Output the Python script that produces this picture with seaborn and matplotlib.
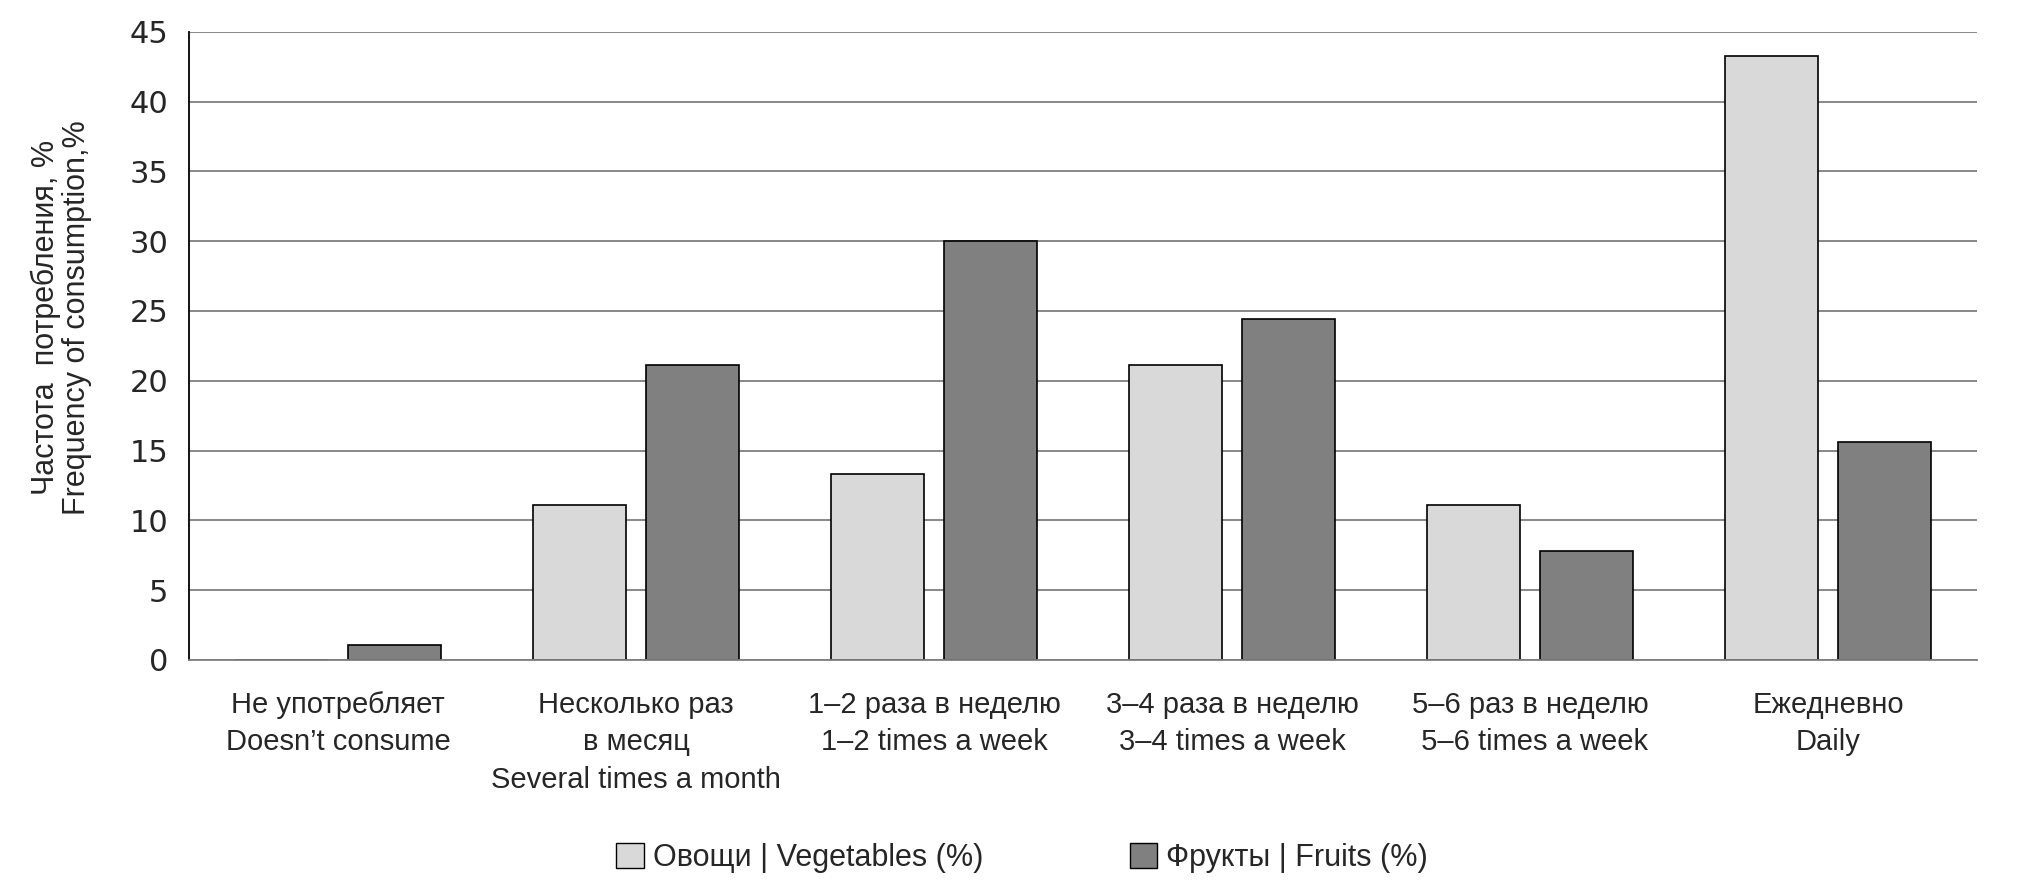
import numpy as np
import pandas as pd
import matplotlib.pyplot as plt
import seaborn as sns
from matplotlib.patches import Patch

sns.set_style('white')
plt.rcParams['font.family'] = ['Liberation Sans', 'DejaVu Sans']

# данные (n = 90, %)
categories = ['Не употребляет\nDoesn’t consume',
              'Несколько раз\nв месяц\nSeveral times a month',
              '1–2 раза в неделю\n1–2 times a week',
              '3–4 раза в неделю\n3–4 times a week',
              '5–6 раз в неделю\n 5–6 times a week',
              'Ежедневно\nDaily']
vegetables = [0.0, 11.1, 13.3, 21.1, 11.1, 43.3]
fruits = [1.1, 21.1, 30.0, 24.4, 7.8, 15.6]
series = ['Овощи | Vegetables (%)', 'Фрукты | Fruits (%)']
colors = ['#d9d9d9', '#808080']

df = pd.DataFrame({'cat': categories * 2,
                   'val': vegetables + fruits,
                   'series': [series[0]] * 6 + [series[1]] * 6})

fig = plt.figure(figsize=(20.24, 8.91), dpi=100)
ax = fig.add_axes([0.0934, 0.2593, 0.8834, 0.705])

sns.barplot(data=df, x='cat', y='val', hue='series', palette=colors,
            width=0.76, gap=0.18, edgecolor='black', linewidth=1.2,
            legend=False, ax=ax)

ax.set_xlim(-0.5, 5.5)
ax.set_ylim(0, 45)
ax.set_yticks(np.arange(0, 46, 5))
ax.yaxis.grid(True, color='#7f7f7f', linewidth=1.3)
ax.set_axisbelow(True)
for s in ['top', 'right']:
    ax.spines[s].set_visible(False)
ax.spines['left'].set_color('black')
ax.spines['left'].set_linewidth(1.3)
ax.spines['bottom'].set_color('#7f7f7f')
ax.spines['bottom'].set_linewidth(1.3)

ax.tick_params(axis='y', labelsize=22, length=7, color='#7f7f7f', width=1.3,
               pad=8)
ax.tick_params(axis='x', labelsize=21, length=0, pad=22)
for lab in ax.get_yticklabels():
    lab.set_family(['DejaVu Sans'])
for lab in ax.get_xticklabels():
    lab.set_linespacing(1.45)
ax.set_xlabel('')
ax.set_ylabel('Частота  потребления, %\nFrequency of consumption,%',
              fontsize=22, family=['Liberation Sans Narrow', 'Liberation Sans'],
              linespacing=1.05)
ax.yaxis.set_label_coords(-0.054, 0.545)

handles = [Patch(facecolor=c, edgecolor='black', linewidth=1.0) for c in colors]
fig.legend(handles, series, loc='center', bbox_to_anchor=(0.505, 0.037),
           ncol=2, frameon=False, columnspacing=4.8, handlelength=0.9,
           handleheight=0.9, handletextpad=0.3,
           prop={'family': ['Liberation Sans Narrow', 'Liberation Sans'], 'size': 22})

fig.savefig('out.png', dpi=100)
